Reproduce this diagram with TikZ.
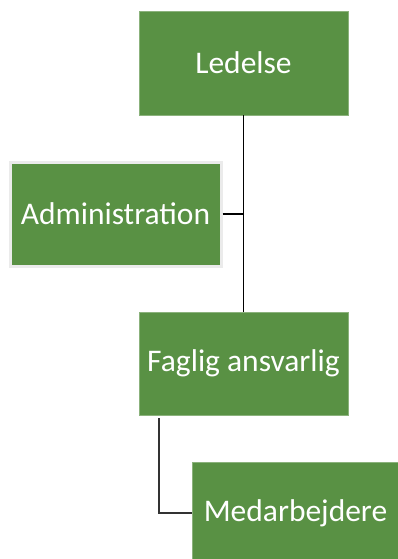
\documentclass[tikz,border=0pt]{standalone}
\usepackage{fontspec}
\setmainfont{Carlito}
\usetikzlibrary{positioning}
\definecolor{boxgreen}{RGB}{89,145,68}
\tikzset{
  orgbox/.style={fill=boxgreen, draw=boxgreen!70!white, line width=0.6pt, text=white,
    font=\fontsize{31.5}{38}\selectfont, inner sep=2pt,
    minimum width=209pt, minimum height=104pt},
  link/.style={draw=black, line width=1.5pt}
}
\begin{document}
\begin{tikzpicture}[x=1pt,y=1pt]
\useasboundingbox (0,0) rectangle (398,-559);
\clip (0,0) rectangle (398,-559);
\node[orgbox] (led) at (243.5,-63) {Ledelse};
\node[orgbox, minimum width=211pt, draw=black!8, line width=3pt] (adm) at (115.5,-214) {Administration};
\node[orgbox, minimum height=103pt] (fag) at (243.5,-363.5) {Faglig ansvarlig};
\node[orgbox, minimum width=207pt, minimum height=102pt] (med) at (295.5,-513) {Medarbejdere};
\coordinate (fagl) at (159,-418);
\draw[link] (led.south) -- (fag.north);
\draw[link] (adm.east) -- (led.south |- adm.east);
\draw[link, draw=black!80] (fagl) |- (med.west);
\end{tikzpicture}
\end{document}
